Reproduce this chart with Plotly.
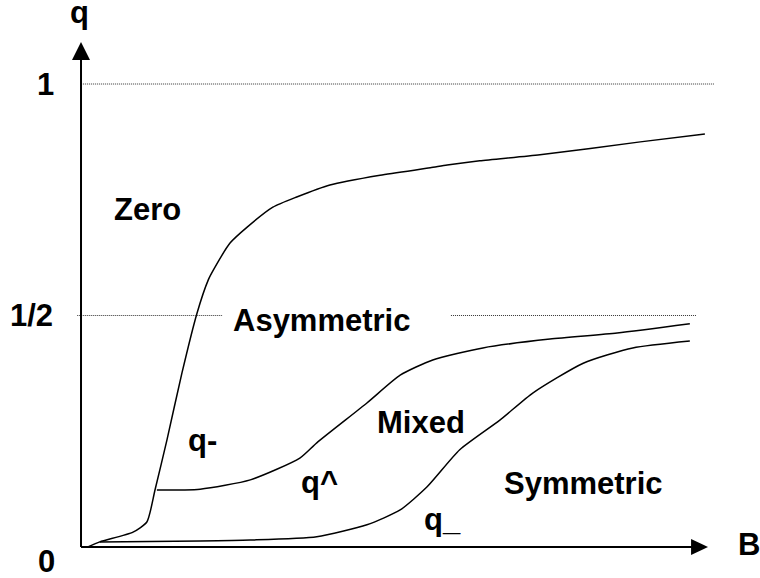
import plotly.graph_objects as go

# ---- data (B in arbitrary units, q fraction) ----
qminus_B = [0.11, 0.30, 0.83, 1.05, 1.18, 1.37, 1.61, 1.85, 2.03, 2.11, 2.38, 2.65, 3.06, 3.44, 3.97, 4.77, 5.57, 5.84, 6.36, 7.32, 8.92, 9.95]
qminus_q = [0.0, 0.011, 0.032, 0.054, 0.123, 0.231, 0.376, 0.505, 0.577, 0.598, 0.657, 0.691, 0.734, 0.756, 0.782, 0.803, 0.819, 0.825, 0.834, 0.847, 0.875, 0.892]

qhat_B = [1.21, 1.90, 2.70, 3.49, 3.76, 4.56, 5.09, 5.61, 6.41, 7.48, 8.55, 9.71]
qhat_q = [0.123, 0.125, 0.145, 0.192, 0.225, 0.311, 0.371, 0.404, 0.430, 0.449, 0.462, 0.482]

qlow_B = [0.30, 1.90, 2.70, 3.76, 4.56, 5.09, 5.52, 6.04, 6.68, 7.21, 8.01, 8.80, 9.71]
qlow_q = [0.011, 0.013, 0.015, 0.022, 0.048, 0.080, 0.130, 0.210, 0.274, 0.333, 0.397, 0.430, 0.445]

# reference levels (dotted)
ref_levels = [1.0, 0.5]
ref_segments = [[(0.03, 10.1)], [(-0.06, 2.25), (5.90, 9.82)]]

# tick labels
tick_vals = [1.0, 0.5, 0.0]
tick_text = ["1", "1/2", "0"]

# region / curve labels: (text, B, q)
labels = [
    ("Zero", 1.06, 0.730),
    ("Asymmetric", 3.83, 0.490),
    ("q-", 1.93, 0.230),
    ("q^", 3.81, 0.140),
    ("Mixed", 5.42, 0.268),
    ("Symmetric", 8.01, 0.138),
    ("q_", 5.76, 0.060),
]

B_MIN, B_MAX = -1.292, 10.829
Q_MIN, Q_MAX = -0.06695, 1.18143
AX_B_END, AX_Q_END = 10.0, 1.0907

FONT = "Liberation Sans, Arial, sans-serif"

fig = go.Figure()
for bx, qy in [(qminus_B, qminus_q), (qhat_B, qhat_q), (qlow_B, qlow_q)]:
    fig.add_trace(go.Scatter(x=bx, y=qy, mode="lines",
                             line=dict(color="black", width=1.5, shape="spline", smoothing=0.6),
                             hoverinfo="skip", showlegend=False))

shapes = []
for lvl, segs in zip(ref_levels, ref_segments):
    for x0, x1 in segs:
        shapes.append(dict(type="line", xref="x", yref="y", x0=x0, x1=x1, y0=lvl, y1=lvl,
                           line=dict(color="#333", width=1, dash="1px,1px")))
# axes
shapes.append(dict(type="line", xref="x", yref="y", x0=0, x1=AX_B_END - 0.2, y0=0, y1=0,
                   line=dict(color="black", width=2)))
shapes.append(dict(type="line", xref="x", yref="y", x0=0, x1=0, y0=0, y1=AX_Q_END - 0.03,
                   line=dict(color="black", width=2)))
# arrow heads
hb = 0.0173
shapes.append(dict(type="path", xref="x", yref="y",
                   path=f"M {AX_B_END-0.27},{-hb} L {AX_B_END-0.27},{hb} L {AX_B_END},0 Z",
                   fillcolor="black", line=dict(color="black", width=0)))
hw = 0.1435
shapes.append(dict(type="path", xref="x", yref="y",
                   path=f"M {-hw},{AX_Q_END-0.0389} L {hw},{AX_Q_END-0.0389} L 0,{AX_Q_END} Z",
                   fillcolor="black", line=dict(color="black", width=0)))

annotations = []
fs = 31
for v, t in zip(tick_vals, tick_text):
    xpos = {"1": -0.574, "1/2": -0.782, "0": -0.558}[t]
    ypos = v if t != "0" else -0.032
    annotations.append(dict(x=xpos, y=ypos, xref="x", yref="y", text=f"<b>{t}</b>", showarrow=False,
                            xanchor="center", yanchor="middle", font=dict(family=FONT, size=fs, color="black")))
annotations.append(dict(x=-0.02, y=1.155, xref="x", yref="y", text="<b>q</b>", showarrow=False,
                        xanchor="center", yanchor="middle", font=dict(family=FONT, size=fs, color="black")))
annotations.append(dict(x=10.66, y=0.006, xref="x", yref="y", text="<b>B</b>", showarrow=False,
                        xanchor="center", yanchor="middle", font=dict(family=FONT, size=fs, color="black")))
for t, bx, qy in labels:
    annotations.append(dict(x=bx, y=qy, xref="x", yref="y", text=f"<b>{t}</b>", showarrow=False,
                            xanchor="center", yanchor="middle", font=dict(family=FONT, size=fs, color="black")))

fig.update_layout(
    width=760, height=578,
    margin=dict(l=0, r=0, t=0, b=0),
    plot_bgcolor="white", paper_bgcolor="white",
    xaxis=dict(range=[B_MIN, B_MAX], visible=False, fixedrange=True),
    yaxis=dict(range=[Q_MIN, Q_MAX], visible=False, fixedrange=True),
    shapes=shapes, annotations=annotations,
)
fig.write_html("out.html", config={"displayModeBar": False},
               post_script="document.body.style.margin='0px';document.body.style.overflow='hidden';")
